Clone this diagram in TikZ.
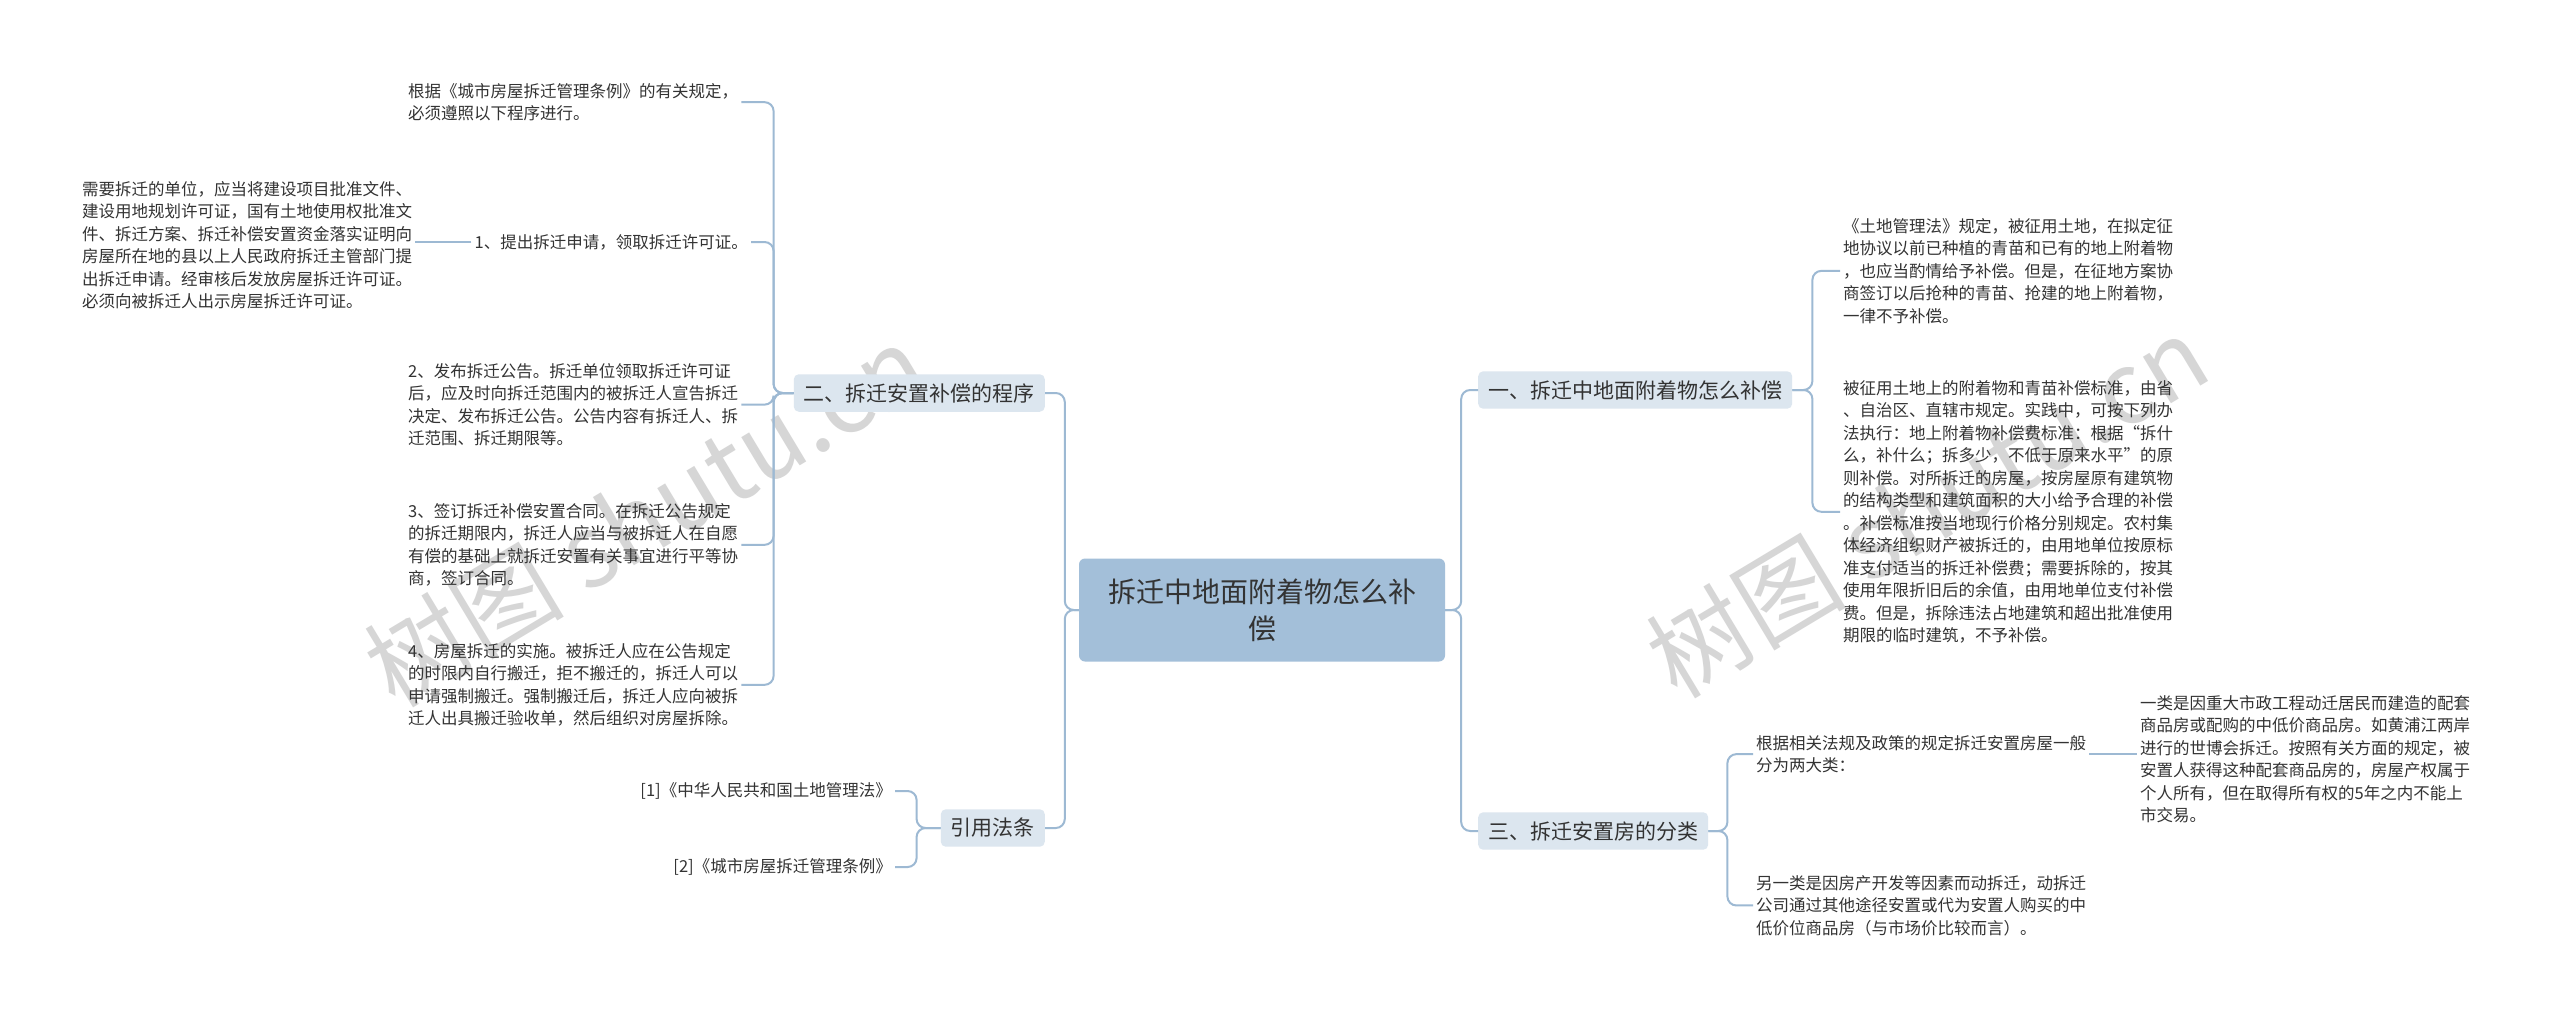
\documentclass[tikz,border=0pt]{standalone}
\usepackage{fontspec}
\setmainfont{Noto Sans CJK SC}
\begin{document}
\begin{tikzpicture}[x=1pt,y=-1pt,
  conn/.style={draw=lineblue,line width=2pt,rounded corners=9pt},
  leaf/.style={font=\fontsize{16.5}{22.5}\selectfont,text=txt,align=left,inner sep=3pt},
  branch/.style={fill=brfill,rounded corners=5pt,font=\fontsize{21}{26}\selectfont,text=txt,inner xsep=10pt,inner ysep=9pt},
  wm/.style={font=\fontsize{100}{100}\selectfont,text=black!16,rotate=31}]
\definecolor{lineblue}{HTML}{9DB9D3}
\definecolor{brfill}{HTML}{DCE6EF}
\definecolor{cfill}{HTML}{A3BFD9}
\definecolor{txt}{HTML}{333333}
\useasboundingbox (0,0) rectangle (2560,1021);
\fill[white] (0,0) rectangle (2560,1021);
% watermarks
\node[wm] (wm1) at (645,515) {树图 shutu.cn};
\node[wm] (wm2) at (1927,506) {树图 shutu.cn};
% center
\node[fill=cfill,rounded corners=6pt,minimum width=366pt,minimum height=103pt,font=\fontsize{28}{37}\selectfont,text=txt,align=center] (c) at (1262,610) {拆迁中地面附着物怎么补\\偿};
% branches
\node[branch,anchor=east] (b2) at (1045,393) {二、拆迁安置补偿的程序};
\node[branch,anchor=east] (b4) at (1045,828) {引用法条};
\node[branch,anchor=west] (b1) at (1478,390) {一、拆迁中地面附着物怎么补偿};
\node[branch,anchor=west] (b3) at (1478,831) {三、拆迁安置房的分类};
% left leaves
\node[leaf,anchor=north west] (p0) at (405,80) {根据《城市房屋拆迁管理条例》的有关规定，\\必须遵照以下程序进行。};
\node[leaf,anchor=east] (p1) at (751,242) {1、提出拆迁申请，领取拆迁许可证。};
\node[leaf,anchor=north west] (p1d) at (79,178) {需要拆迁的单位，应当将建设项目批准文件、\\建设用地规划许可证，国有土地使用权批准文\\件、拆迁方案、拆迁补偿安置资金落实证明向\\房屋所在地的县以上人民政府拆迁主管部门提\\出拆迁申请。经审核后发放房屋拆迁许可证。\\必须向被拆迁人出示房屋拆迁许可证。};
\node[leaf,anchor=north west] (p2) at (405,360) {2、发布拆迁公告。拆迁单位领取拆迁许可证\\后，应及时向拆迁范围内的被拆迁人宣告拆迁\\决定、发布拆迁公告。公告内容有拆迁人、拆\\迁范围、拆迁期限等。};
\node[leaf,anchor=north west] (p3) at (405,500) {3、签订拆迁补偿安置合同。在拆迁公告规定\\的拆迁期限内，拆迁人应当与被拆迁人在自愿\\有偿的基础上就拆迁安置有关事宜进行平等协\\商，签订合同。};
\node[leaf,anchor=north west] (p4) at (405,640) {4、房屋拆迁的实施。被拆迁人应在公告规定\\的时限内自行搬迁，拒不搬迁的，拆迁人可以\\申请强制搬迁。强制搬迁后，拆迁人应向被拆\\迁人出具搬迁验收单，然后组织对房屋拆除。};
\node[leaf,anchor=east] (r1) at (895,791) {[1]《中华人民共和国土地管理法》};
\node[leaf,anchor=east] (r2) at (895,867) {[2]《城市房屋拆迁管理条例》};
% right leaves
\node[leaf,anchor=north west] (a1) at (1840,215) {《土地管理法》规定，被征用土地，在拟定征\\地协议以前已种植的青苗和已有的地上附着物\\，也应当酌情给予补偿。但是，在征地方案协\\商签订以后抢种的青苗、抢建的地上附着物，\\一律不予补偿。};
\node[leaf,anchor=north west] (a2) at (1840,377) {被征用土地上的附着物和青苗补偿标准，由省\\、自治区、直辖市规定。实践中，可按下列办\\法执行：地上附着物补偿费标准：根据“拆什\\么，补什么；拆多少，不低于原来水平”的原\\则补偿。对所拆迁的房屋，按房屋原有建筑物\\的结构类型和建筑面积的大小给予合理的补偿\\。补偿标准按当地现行价格分别规定。农村集\\体经济组织财产被拆迁的，由用地单位按原标\\准支付适当的拆迁补偿费；需要拆除的，按其\\使用年限折旧后的余值，由用地单位支付补偿\\费。但是，拆除违法占地建筑和超出批准使用\\期限的临时建筑，不予补偿。};
\node[leaf,anchor=north west] (s1) at (1753,732) {根据相关法规及政策的规定拆迁安置房屋一般\\分为两大类：};
\node[leaf,anchor=north west] (s1d) at (2137,692) {一类是因重大市政工程动迁居民而建造的配套\\商品房或配购的中低价商品房。如黄浦江两岸\\进行的世博会拆迁。按照有关方面的规定，被\\安置人获得这种配套商品房的，房屋产权属于\\个人所有，但在取得所有权的5年之内不能上\\市交易。};
\node[leaf,anchor=north west] (s2) at (1753,872) {另一类是因房产开发等因素而动拆迁，动拆迁\\公司通过其他途径安置或代为安置人购买的中\\低价位商品房（与市场价比较而言）。};
% connectors
\draw[conn] (c.west) -- ++(-14,0) |- (b2.east);
\draw[conn] (c.west) -- ++(-14,0) |- (b4.east);
\draw[conn] (c.east) -- ++(16,0) |- (b1.west);
\draw[conn] (c.east) -- ++(16,0) |- (b3.west);
\draw[conn] (b2.west) -- ++(-20,0) |- (p0.east);
\draw[conn] (b2.west) -- ++(-20,0) |- (p1.east);
\draw[conn] (b2.west) -- ++(-20,0) |- (p2.east);
\draw[conn] (b2.west) -- ++(-20,0) |- (p3.east);
\draw[conn] (b2.west) -- ++(-20,0) |- (p4.east);
\draw[conn] (p1.west) -- (p1d.east |- p1.west);
\draw[conn] (b4.west) -- ++(-24,0) |- (r1.east);
\draw[conn] (b4.west) -- ++(-24,0) |- (r2.east);
\draw[conn] (b1.east) -- ++(20,0) |- (a1.west);
\draw[conn] (b1.east) -- ++(20,0) |- (a2.west);
\draw[conn] (b3.east) -- ++(19,0) |- (s1.west);
\draw[conn] (b3.east) -- ++(19,0) |- (s2.west);
\draw[conn] (s1.east) -- (s1d.west |- s1.east);
\end{tikzpicture}
\end{document}
